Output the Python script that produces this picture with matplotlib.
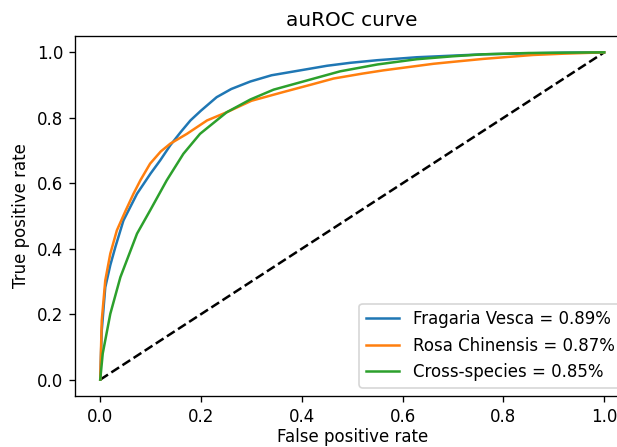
import numpy as np
import matplotlib
matplotlib.use('Agg')
import matplotlib.pyplot as plt

# ROC points
fpr_vesca = [0.0, 0.003, 0.010, 0.020, 0.030, 0.046, 0.073, 0.10, 0.119, 0.139, 0.16, 0.179, 0.20, 0.231,
             0.26, 0.298, 0.34, 0.397, 0.45, 0.496, 0.55, 0.628, 0.70, 0.76, 0.85, 0.92, 1.0]
tpr_vesca = [0.0, 0.15, 0.282, 0.35, 0.405, 0.486, 0.568, 0.63, 0.670, 0.716, 0.757, 0.792, 0.822, 0.863,
             0.888, 0.911, 0.930, 0.945, 0.959, 0.968, 0.976, 0.985, 0.990, 0.994, 0.997, 0.999, 1.0]

fpr_rosa = [0.0, 0.003, 0.010, 0.020, 0.033, 0.05, 0.066, 0.08, 0.099, 0.12, 0.139, 0.172, 0.212, 0.251,
            0.30, 0.364, 0.42, 0.463, 0.52, 0.562, 0.661, 0.70, 0.760, 0.859, 0.92, 1.0]
tpr_rosa = [0.0, 0.18, 0.303, 0.385, 0.456, 0.515, 0.568, 0.61, 0.660, 0.697, 0.721, 0.751, 0.792, 0.817,
            0.852, 0.879, 0.902, 0.920, 0.935, 0.945, 0.965, 0.971, 0.980, 0.992, 0.996, 1.0]

fpr_cross = [0.0, 0.005, 0.020, 0.040, 0.073, 0.099, 0.132, 0.165, 0.198, 0.251, 0.298, 0.344, 0.41,
             0.476, 0.55, 0.628, 0.70, 0.76, 0.85, 1.0]
tpr_cross = [0.0, 0.08, 0.201, 0.313, 0.446, 0.517, 0.609, 0.690, 0.751, 0.817, 0.856, 0.886, 0.914,
             0.942, 0.963, 0.979, 0.988, 0.994, 0.998, 1.0]

labels = ['Fragaria Vesca = 0.89%', 'Rosa Chinensis = 0.87%', 'Cross-species = 0.85%']

# original was rendered at a higher dpi, so text and lines are a bit bigger
fig = plt.figure(figsize=(617 / 120, 447 / 120), dpi=120)
# axes run past the right edge, as in the cropped original
ax = fig.add_axes([0.1216, 0.1141, 0.8985, 0.8054])
ax.plot([0, 1], [0, 1], 'k--')
ax.plot(fpr_vesca, tpr_vesca, label=labels[0])
ax.plot(fpr_rosa, tpr_rosa, label=labels[1])
ax.plot(fpr_cross, tpr_cross, label=labels[2])
ax.set_xlabel('False positive rate', labelpad=1.5)
ax.set_ylabel('True positive rate')
ax.set_title('auROC curve')
ax.legend(loc='lower right')
fig.savefig('out.png', dpi=120)
